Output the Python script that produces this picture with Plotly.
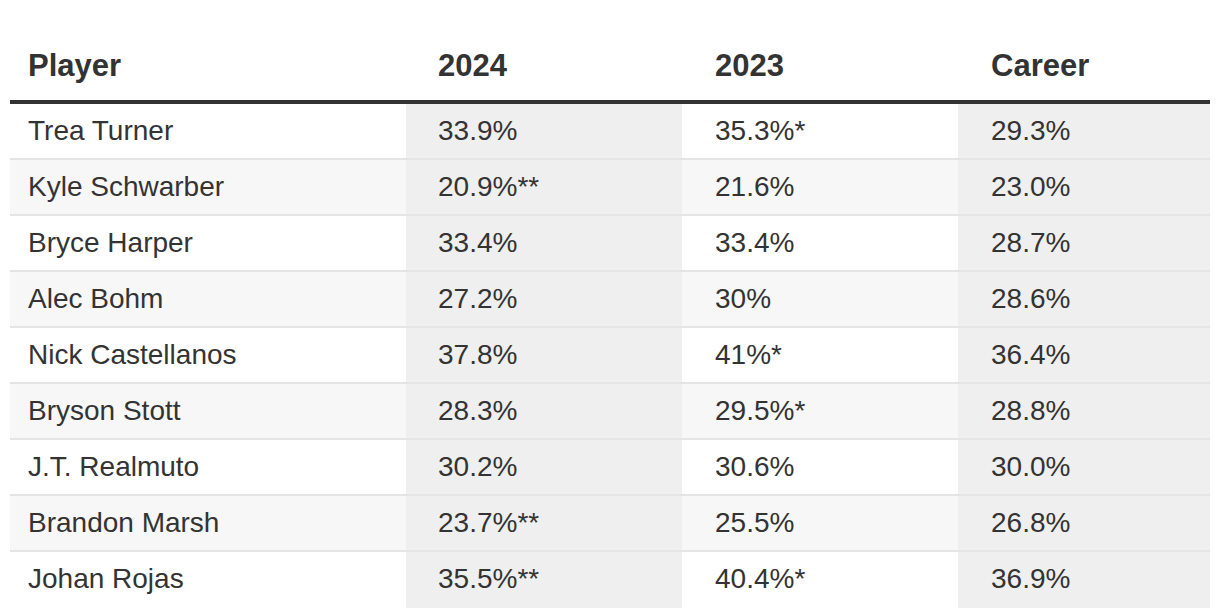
import plotly.graph_objects as go

# ---- data ----
players = ["Trea Turner", "Kyle Schwarber", "Bryce Harper", "Alec Bohm",
           "Nick Castellanos", "Bryson Stott", "J.T. Realmuto",
           "Brandon Marsh", "Johan Rojas"]
k2024 = ["33.9%", "20.9%**", "33.4%", "27.2%", "37.8%", "28.3%", "30.2%",
         "23.7%**", "35.5%**"]
k2023 = ["35.3%*", "21.6%", "33.4%", "30%", "41%*", "29.5%*", "30.6%",
         "25.5%", "40.4%*"]
career = ["29.3%", "23.0%", "28.7%", "28.6%", "36.4%", "28.8%", "30.0%",
          "26.8%", "36.9%"]
headers = ["Player", "2024", "2023", "Career"]

# ---- geometry (screen pixels; the page body adds an 8px margin) ----
OFF = 8
W, H = 1220 - OFF, 616 - OFF
X0, X1 = 10, 1210
TOP = 30            # top of header band
HEAD_H = 74         # header height (incl. rule)
ROW_H = 56
RULE_TOP = 100      # thick rule under header
col_w = [396, 276, 276, 252]

# text layer geometry
TXT_ROW_TOP = 111
TXT_HEAD_TOP = 45
TXT_X0 = 20
txt_col_w = [410, 277, 276, 227]

n = len(players)
WHITE, ROWSH, COLSH = "#ffffff", "#f7f7f7", "#efefef"
row_fill = [ROWSH if i % 2 else WHITE for i in range(n)]
col_fill = [COLSH] * n
fills = [row_fill, col_fill, row_fill, col_fill]
cols = [players, k2024, k2023, career]
blank = [[""] * len(c) for c in cols]


def px_x(x):
    return (x - OFF) / W


def px_y(y):
    return 1 - (y - OFF) / H


fig = go.Figure()
# background (fills) table
fig.add_trace(go.Table(
    domain=dict(x=[px_x(X0), px_x(X1)], y=[0, px_y(TOP)]),
    columnwidth=col_w,
    header=dict(values=[""] * len(headers), height=HEAD_H, fill_color=WHITE,
                line=dict(width=0)),
    cells=dict(values=blank, height=ROW_H, fill_color=fills,
               line=dict(width=0)),
))
# text table
fig.add_trace(go.Table(
    domain=dict(x=[px_x(TXT_X0), px_x(X1)], y=[0, px_y(TXT_HEAD_TOP)]),
    columnwidth=txt_col_w,
    header=dict(values=headers, height=TXT_ROW_TOP - TXT_HEAD_TOP,
                fill_color="rgba(0,0,0,0)", line=dict(width=0), align="left",
                font=dict(color="#333333", size=31, family="Liberation Sans",
                          weight="bold")),
    cells=dict(values=cols, height=ROW_H, fill_color="rgba(0,0,0,0)",
               line=dict(width=0), align="left",
               font=dict(color="#333333", size=28, family="Liberation Sans")),
))

shapes = [dict(type="rect", xref="paper", yref="paper",
               x0=px_x(X0), x1=px_x(X1), y0=px_y(RULE_TOP + 4),
               y1=px_y(RULE_TOP), fillcolor="#333333", line=dict(width=0),
               layer="above")]
body_top = TOP + HEAD_H
for i in range(1, n):
    yb = body_top + i * ROW_H
    shapes.append(dict(type="rect", xref="paper", yref="paper",
                       x0=px_x(X0), x1=px_x(X1), y0=px_y(yb),
                       y1=px_y(yb - 2), fillcolor="#e5e5e5",
                       line=dict(width=0), layer="above"))

fig.update_layout(width=W, height=H, margin=dict(l=0, r=0, t=0, b=0),
                  paper_bgcolor="white", plot_bgcolor="white",
                  shapes=shapes, showlegend=False)
fig.write_html("out.html")
